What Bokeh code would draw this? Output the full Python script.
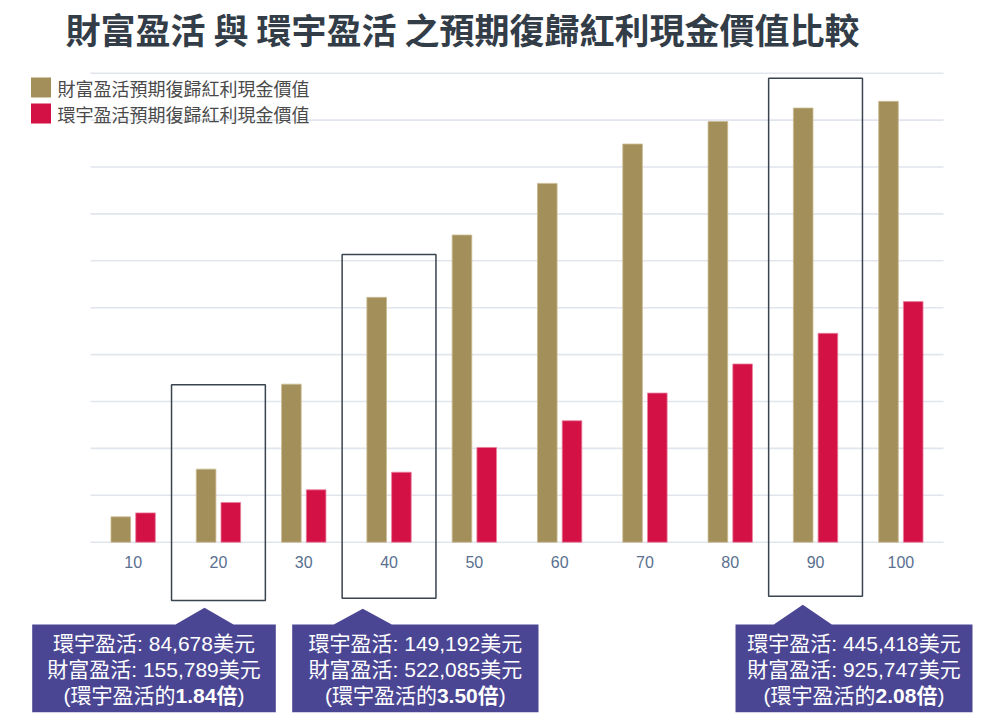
from bokeh.plotting import figure
from bokeh.models import Range1d
from bokeh.core.properties import value
from bokeh.embed import file_html
from bokeh.resources import INLINE

# ---------------- data ----------------
title_text = "財富盈活 與 環宇盈活 之預期復歸紅利現金價值比較"
categories = [10, 20, 30, 40, 50, 60, 70, 80, 90, 100]
tick_labels = ["10", "20", "30", "40", "50", "60", "70", "80", "90", "100"]
wealth_name = "財富盈活預期復歸紅利現金價值"
global_name = "環宇盈活預期復歸紅利現金價值"
wealth_values = [54000, 155789, 337000, 522085, 655000, 765000, 849000, 897000, 925747, 940000]
global_values = [62500, 84678, 111700, 149192, 202000, 259000, 318000, 380000, 445418, 513000]
grid_values = [0, 100000, 200000, 300000, 400000, 500000, 600000, 700000, 800000, 900000, 1000000]
highlight_categories = [20, 40, 90]

# ---------------- styles / layout ----------------
W, H = 988, 723
GOLD = "#A38F5A"
CRIMSON = "#D31145"
PURPLE = "#4B4694"
GRID = "#E1E5EC"
FONT = "'Liberation Sans', 'Noto Sans CJK TC', sans-serif"
CJK_FONT = "'Noto Sans CJK TC', sans-serif"

GRID_L, GRID_R = 90.0, 943.0          # plot area in px
BASE_Y = 541.7                         # px of value 0
PX_PER_DOLLAR = 46.9 / 100000
STEP = 10.0                            # category spacing in x units
PX_PER_X = (GRID_R - GRID_L) / (len(categories) * STEP)
X0 = categories[0] - STEP / 2          # x value at left of plot area

p = figure(width=W, height=H, output_backend="svg", toolbar_location=None,
           x_axis_location=None, y_axis_location=None,
           x_range=Range1d(X0 - GRID_L / PX_PER_X, X0 + (W - GRID_L) / PX_PER_X),
           y_range=Range1d(-(H - BASE_Y) / PX_PER_DOLLAR, BASE_Y / PX_PER_DOLLAR),
           min_border=0, outline_line_color=None,
           background_fill_color="white", border_fill_color="white")
p.grid.visible = False
p.extra_x_ranges = {"px": Range1d(0, W)}
p.extra_y_ranges = {"py": Range1d(H, 0)}

# grid lines
x_lo = X0
x_hi = X0 + len(categories) * STEP
p.segment(x0=[x_lo] * len(grid_values), x1=[x_hi] * len(grid_values),
          y0=grid_values, y1=grid_values, line_color=GRID, line_width=1.6)

# bars
OFF = 1.45
BW = 2.3
p.vbar(x=[c - OFF for c in categories], top=wealth_values, bottom=0, width=BW,
       fill_color=GOLD, line_color="#C9BB92", line_width=0.8)
p.vbar(x=[c + OFF for c in categories], top=global_values, bottom=0, width=BW,
       fill_color=CRIMSON, line_color="#E9809C", line_width=0.8)

# category labels
p.text(x=categories, y=[561] * len(categories), text=tick_labels, y_range_name="py",
       text_align="center", text_baseline="middle", text_font=value(FONT),
       text_font_size="16px", text_color="#5A7090")

# highlight boxes around selected groups (x from data, y in px)
box_top_px = {20: 384.3, 40: 254.0, 90: 77.7}
box_bot_px = {20: 600.0, 40: 597.7, 90: 595.7}
HALF = 5.5
p.quad(left=[c - HALF for c in highlight_categories],
       right=[c + HALF for c in highlight_categories],
       top=[box_top_px[c] for c in highlight_categories],
       bottom=[box_bot_px[c] for c in highlight_categories],
       y_range_name="py", fill_color=None, line_color="#3A4450", line_width=1.5)

# title
p.text(x=[462], y=[28], text=[title_text], x_range_name="px", y_range_name="py",
       text_align="center", text_baseline="middle", text_font=value(CJK_FONT),
       text_font_style="bold", text_font_size="35px", text_color="#333D48")

# legend
p.rect(x=[40.5, 40.5], y=[87, 113], width=20, height=20, x_range_name="px", y_range_name="py",
       fill_color=[GOLD, CRIMSON], line_color=None)
p.text(x=[57, 57], y=[87, 113], text=[wealth_name, global_name], x_range_name="px", y_range_name="py",
       text_align="left", text_baseline="middle", text_font=value(CJK_FONT),
       text_font_size="18px", text_color="#4A4A4A")

# callouts
callout_rects = [(31.7, 275.3), (291.7, 538.0), (735.0, 972.0)]
callout_apex = [(204.0, 607.3), (362.3, 608.3), (802.3, 604.3)]
C_TOP, C_BOT = 624.0, 711.7
HB = 29.0
xs, ys = [], []
for (l, r), (ax, ay) in zip(callout_rects, callout_apex):
    xs.append([l, l, ax - HB, ax, ax + HB, r, r])
    ys.append([C_BOT, C_TOP, C_TOP, ay, C_TOP, C_TOP, C_BOT])
p.patches(xs=xs, ys=ys, x_range_name="px", y_range_name="py",
          fill_color=PURPLE, line_color=None)

FS = 21
def w_latin(s, bold=False):
    wd = {"0": .556, "1": .556, "2": .556, "3": .556, "4": .556, "5": .556, "6": .556,
          "7": .556, "8": .556, "9": .556, ".": .278, ",": .278, "(": .333, ")": .333,
          ":": .278, " ": .278}
    return sum(wd.get(ch, 1.0) for ch in s) * FS

L1, L2, L3 = 643.0, 668.5, 694.5
for (l, r), c in zip(callout_rects, highlight_categories):
    i = categories.index(c)
    g, w = global_values[i], wealth_values[i]
    cx = (l + r) / 2
    line1 = f"環宇盈活: {g:,}美元"
    line2 = f"財富盈活: {w:,}美元"
    p.text(x=[cx, cx], y=[L1, L2], text=[line1, line2], x_range_name="px", y_range_name="py",
           text_align="center", text_baseline="middle", text_font=value(FONT),
           text_font_size=f"{FS}px", text_color="white")
    part_a = "(環宇盈活的"
    part_b = f"{w / g:.2f}倍"
    part_c = ")"
    wa, wb, wc = w_latin(part_a), w_latin(part_b, True), w_latin(part_c)
    start = cx - (wa + wb + wc) / 2
    p.text(x=[start], y=[L3], text=[part_a], x_range_name="px", y_range_name="py",
           text_align="left", text_baseline="middle", text_font=value(FONT),
           text_font_size=f"{FS}px", text_color="white")
    p.text(x=[start + wa], y=[L3], text=[part_b], x_range_name="px", y_range_name="py",
           text_align="left", text_baseline="middle", text_font=value(FONT),
           text_font_style="bold", text_font_size=f"{FS}px", text_color="white")
    p.text(x=[start + wa + wb], y=[L3], text=[part_c], x_range_name="px", y_range_name="py",
           text_align="left", text_baseline="middle", text_font=value(FONT),
           text_font_size=f"{FS}px", text_color="white")

open("out.html", "w").write(file_html(p, INLINE))
